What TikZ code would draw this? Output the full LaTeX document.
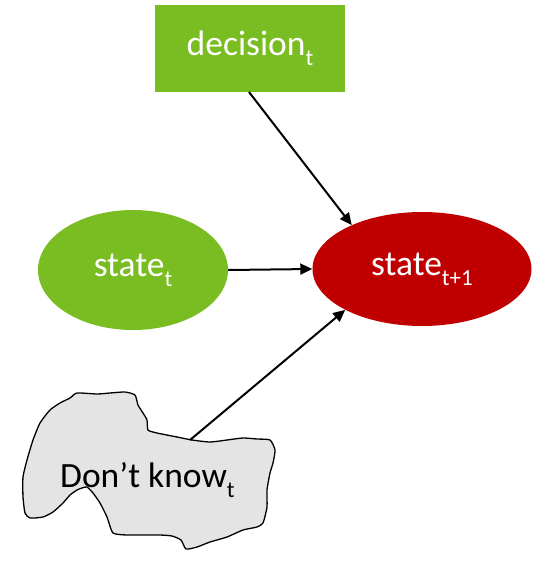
\documentclass[tikz,border=0pt]{standalone}
\usepackage{fontspec}
\setmainfont{Carlito}
\usetikzlibrary{shapes.geometric,arrows.meta}
\definecolor{leaf}{RGB}{122,189,34}
\definecolor{deepred}{RGB}{192,0,0}
\definecolor{cloudgray}{RGB}{228,228,228}
\newcommand{\lbl}[2]{\fontsize{35.5}{40}\selectfont #1\raisebox{-10pt}{\fontsize{23}{24}\selectfont #2}}
\tikzset{
  greenfill/.style={fill=leaf, draw=none, text=white},
  redfill/.style={fill=deepred, draw=none, text=white},
  arr/.style={-{Triangle[length=12pt,width=11pt]}, line width=2pt, black},
}
\begin{document}
\begin{tikzpicture}[x=1pt,y=-1pt]
\useasboundingbox (0,0) rectangle (536,563);

% decision box
\node[greenfill, rectangle, minimum width=190pt, minimum height=87pt, inner sep=0pt]
  (dec) at (250,48.5) {\lbl{decision}{t}};

% state nodes
\node[greenfill, ellipse, minimum width=190pt, minimum height=120pt, inner sep=0pt]
  (st) at (133,270) {\lbl{state}{t}};
\node[redfill, ellipse, minimum width=219pt, minimum height=114pt, inner sep=0pt]
  (st1) at (422,269) {\lbl{state}{t+1}};

% irregular "don't know" blob
\draw[fill=cloudgray, line width=1.3pt, line join=round]
  plot[smooth cycle, tension=0.35] coordinates {
    (77,393) (97,394) (110,393) (125,392) (135,395) (138,405) (143,413)
    (147,420) (148,430) (157,433) (177,437) (192,440) (210,442) (227,440)
    (243,438) (257,439) (270,440) (275,450) (273,463) (270,473) (267,490)
    (267,507) (263,523) (257,527) (243,530) (227,537) (210,542) (197,547)
    (186,549) (181,540) (172,536) (160,535) (143,535) (127,535) (113,533)
    (107,517) (100,503) (93,493) (87,487) (82,488) (77,490) (70,495)
    (63,503) (53,512) (43,517) (30,518) (25,513) (23,497) (23,477)
    (27,460) (33,440) (40,423) (50,410) (60,403) (70,398)};
\node[inner sep=0pt, anchor=base west] (dk) at (60,487) {\lbl{Don’t know}{t}};
\coordinate (blobtop) at (190,440);

% connectors
\draw[arr] (249,92) -- (st1.148);
\draw[arr] (st.east) -- (st1.west);
\draw[arr] (blobtop) -- (st1.208);
\end{tikzpicture}
\end{document}
